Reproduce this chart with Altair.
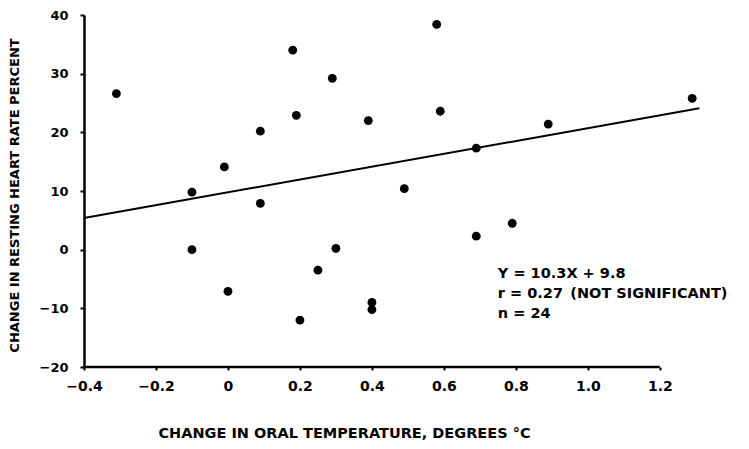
import altair as alt
import pandas as pd

# Values
temp_change = [-0.31, -0.10, -0.01, 0.09, 0.09, 0.18, 0.19, 0.29, 0.39, 0.58, 0.59, 0.49,
               0.69, 0.89, 1.29, -0.10, 0.00, 0.20, 0.25, 0.30, 0.40, 0.40, 0.69, 0.79]
hr_change = [26.6, 9.8, 14.1, 20.2, 7.9, 34.0, 22.9, 29.2, 22.0, 38.4, 23.6, 10.4,
             17.3, 21.4, 25.8, 0.0, -7.1, -12.0, -3.5, 0.2, -9.0, -10.2, 2.3, 4.5]
fit_x = [-0.4, 1.31]
fit_y = [5.4, 24.1]
x_ticks = [-0.4, -0.2, 0, 0.2, 0.4, 0.6, 0.8, 1.0, 1.2]
y_ticks = [-20, -10, 0, 10, 20, 30, 40]
stats_lines = ["Y = 10.3X + 9.8", "r = 0.27\u2002(NOT SIGNIFICANT)", "n = 24"]
x_title = "CHANGE IN ORAL TEMPERATURE, DEGREES °C"
y_title = "CHANGE IN RESTING HEART RATE PERCENT"

FONT = "DejaVu Sans"

pts = pd.DataFrame({"t": temp_change, "hr": hr_change})
fit = pd.DataFrame({"t": fit_x, "hr": fit_y})
base_line = pd.DataFrame({"t": [x_ticks[0], x_ticks[-1]], "hr": [y_ticks[0], y_ticks[0]]})

x_scale = alt.Scale(domain=[-0.4, 1.32], nice=False, zero=False)
y_scale = alt.Scale(domain=[-20, 40], nice=False, zero=False)

x_axis = alt.Axis(
    values=x_ticks,
    labelExpr="datum.value == 0 ? '0' : format(datum.value, '.1f')",
    domain=False, grid=False,
    tickSize=3, tickWidth=2, tickColor="black",
    labelFont=FONT, labelFontSize=14, labelFontWeight="bold", labelColor="black",
    labelPadding=9, labelFlush=False, labelOverlap=False,
    title=x_title, titleFont=FONT, titleFontSize=14.5, titleFontWeight="bold",
    titleColor="black", titleX=260, titleY=70, titleBaseline="alphabetic",
    titleAlign="center",
)
y_axis = alt.Axis(
    values=y_ticks, format="d",
    domain=True, domainWidth=2.5, domainColor="black", grid=False,
    tickSize=4, tickWidth=2, tickColor="black",
    labelFont=FONT, labelFontSize=13, labelFontWeight="bold", labelColor="black",
    labelPadding=12,
    title=y_title, titleFont=FONT, titleFontSize=13, titleFontWeight="bold",
    titleColor="black", titleX=-66, titleY=180, titleAngle=-90,
    titleBaseline="alphabetic", titleAlign="center",
)

points = alt.Chart(pts).mark_circle(size=78, color="black", opacity=1).encode(
    x=alt.X("t:Q", scale=x_scale, axis=x_axis),
    y=alt.Y("hr:Q", scale=y_scale, axis=y_axis),
)

fit_line = alt.Chart(fit).mark_line(color="black", strokeWidth=2).encode(
    x="t:Q", y="hr:Q"
)

axis_line = alt.Chart(base_line).mark_line(color="black", strokeWidth=2.5).encode(
    x="t:Q", y="hr:Q"
)

stats = alt.Chart(alt.Data(values=[{}])).mark_text(
    text=stats_lines, lineHeight=20, align="left", baseline="alphabetic",
    font=FONT, fontSize=14.5, fontWeight="bold", color="black",
).encode(x=alt.datum(0.75), y=alt.datum(-4.8))

chart = alt.layer(axis_line, fit_line, points, stats).properties(
    width=619, height=352,
    padding={"left": 76, "top": 7, "right": 36, "bottom": 74},
    autosize=alt.AutoSizeParams(type="none"),
    background="white",
).configure_view(stroke=None)

chart.save("out.html", embed_options={"renderer": "svg", "actions": False})
